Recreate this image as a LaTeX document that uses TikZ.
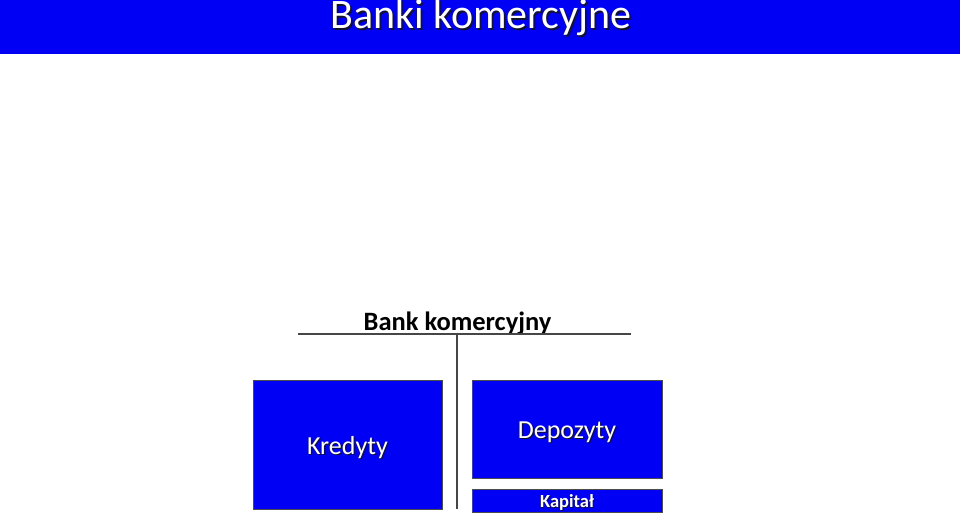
\documentclass[tikz,border=0pt]{standalone}
\usepackage{fontspec}
\setmainfont{Carlito}
\definecolor{slideblue}{RGB}{0,0,245}
\definecolor{shadowc}{RGB}{20,20,40}
\definecolor{linec}{RGB}{70,70,70}
\begin{document}
\begin{tikzpicture}[x=1pt,y=-1pt,
  bluebox/.style={draw=black!70,line width=0.8pt,fill=slideblue,inner sep=0pt,anchor=north west},
  whitetext/.style={text=white,anchor=base,inner sep=0pt},
  shadowtext/.style={text=shadowc,anchor=base,inner sep=0pt},
  rule/.style={draw=linec,line width=1.2pt}]
\useasboundingbox (0,0) rectangle (960,513);
\fill[slideblue] (0,0) rectangle (960,54);
% title
\node[shadowtext,font=\fontsize{42}{46}\selectfont] (titlesh) at (483,31) {Banki komercyjne};
\node[whitetext,font=\fontsize{42}{46}\selectfont] (title) at (481,29) {Banki komercyjne};
% heading
\node[anchor=base,inner sep=0pt,font=\fontsize{26.5}{30}\selectfont\bfseries] (bank) at (457.5,330) {Bank komercyjny};
\coordinate (hl) at (298,334);
\coordinate (hr) at (631,334);
\coordinate (vt) at (457,334);
\coordinate (vb) at (457,509);
\draw[rule] (hl) -- (hr);
\draw[rule] (vt) -- (vb);
% boxes
\node[bluebox,minimum width=189pt,minimum height=129pt] (kred) at (253,380) {};
\node[bluebox,minimum width=190pt,minimum height=98pt] (depo) at (472,380) {};
\node[bluebox,minimum width=190pt,minimum height=23pt] (kap) at (472,489) {};
% box texts
\node[shadowtext,font=\fontsize{26}{30}\selectfont] (kredsh) at (349,455.5) {Kredyty};
\node[whitetext,font=\fontsize{26}{30}\selectfont] (kredt) at (347.5,454) {Kredyty};
\node[shadowtext,font=\fontsize{26}{30}\selectfont] (deposh) at (568.5,439.5) {Depozyty};
\node[whitetext,font=\fontsize{26}{30}\selectfont] (depot) at (567,438) {Depozyty};
\node[shadowtext,font=\fontsize{18.5}{22}\selectfont\bfseries] (kapsh) at (568,508) {Kapitał};
\node[whitetext,font=\fontsize{18.5}{22}\selectfont\bfseries] (kapt) at (567,507) {Kapitał};
\end{tikzpicture}
\end{document}
